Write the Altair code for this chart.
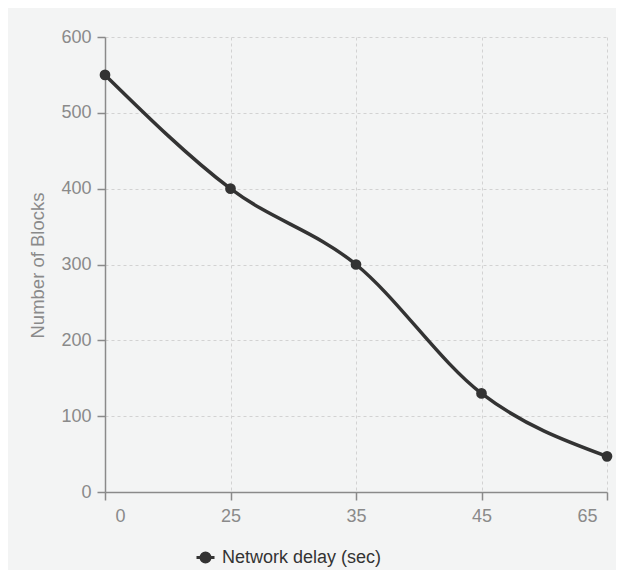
import altair as alt
import pandas as pd

delays = ["0", "25", "35", "45", "65"]
blocks = [550, 400, 300, 130, 47]
series_name = "Network delay (sec)"

df = pd.DataFrame({"delay": delays, "blocks": blocks, "series": [series_name] * len(delays)})

FONT = "Liberation Sans"
GRAY = "#8a8a8a"
DARK = "#333333"

x_enc = alt.X(
    "delay:O",
    sort=delays,
    scale=alt.Scale(padding=0),
    axis=alt.Axis(
        title=None,
        labelAngle=0,
        labelFlush=True,
        labelFlushOffset=-10,
        tickSize=8,
        labelPadding=7,
        grid=True,
    ),
)
y_enc = alt.Y(
    "blocks:Q",
    scale=alt.Scale(domain=[0, 600], nice=False),
    axis=alt.Axis(
        values=[0, 100, 200, 300, 400, 500, 600],
        title="Number of Blocks",
        titleX=-68,
        titleY=228,
        titleAngle=-90,
        titleAlign="center",
        titleBaseline="middle",
        tickSize=8,
        labelPadding=6,
        grid=True,
    ),
)

line = alt.Chart(df).mark_line(interpolate="monotone", strokeWidth=3.5).encode(
    x=x_enc,
    y=y_enc,
    color=alt.Color(
        "series:N",
        scale=alt.Scale(range=[DARK]),
        legend=alt.Legend(
            title=None,
            orient="none",
            legendX=90,
            legendY=510,
            symbolType="M-1,0L1,0M0.5,0A0.5,0.5 0 1 1 -0.5,0A0.5,0.5 0 1 1 0.5,0Z",
            symbolSize=324,
            symbolStrokeWidth=3,
            symbolFillColor=DARK,
            symbolStrokeColor=DARK,
            labelFontSize=18,
            labelColor=DARK,
            labelFont=FONT,
            labelOffset=6,
            labelLimit=400,
        ),
    ),
)

points = alt.Chart(df).mark_circle(size=115, opacity=1, color=DARK).encode(
    x=alt.X("delay:O", sort=delays),
    y="blocks:Q",
)

chart = (
    alt.layer(line, points)
    .properties(
        width=502,
        height=455,
        padding={"left": 97, "top": 29, "right": 9, "bottom": 78},
        autosize=alt.AutoSizeParams(type="none"),
        background="#f3f4f4",
    )
    .configure_view(stroke=None)
    .configure_axis(
        domainColor=GRAY,
        domainWidth=1.5,
        tickColor=GRAY,
        tickWidth=1.5,
        gridColor="#d2d2d2",
        gridDash=[3, 3],
        gridWidth=1,
        labelFont=FONT,
        labelFontSize=18,
        labelColor=GRAY,
        titleFont=FONT,
        titleFontSize=18.5,
        titleColor=GRAY,
        titleFontWeight="normal",
    )
)

chart.save("out.html", embed_options={"renderer": "svg", "actions": False})
